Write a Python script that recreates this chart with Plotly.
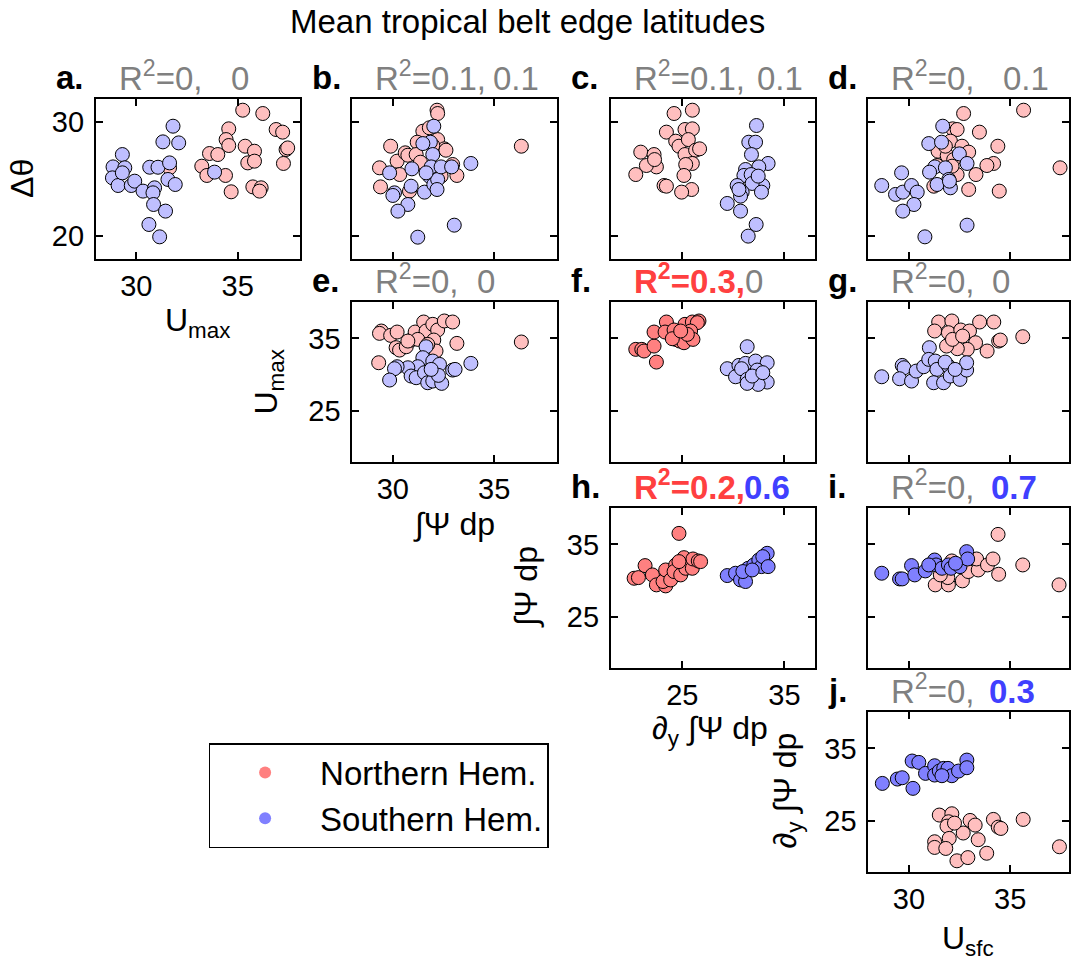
import plotly.graph_objects as go

W, H = 1071, 966
FONT = "Liberation Sans, Arial, Helvetica, sans-serif"

# ---------------- data ----------------
a_nh_x = [31.64, 33.23, 33.48, 33.61, 34.02, 34.40, 34.68, 34.56, 34.43, 34.56, 35.25, 35.37, 35.83, 35.50, 35.83, 35.75, 36.16, 36.24, 36.90, 37.22, 37.39, 37.26, 37.47, 36.08]
a_nh_y = [25.98, 26.12, 25.31, 27.23, 27.14, 25.31, 23.88, 29.39, 28.45, 27.93, 31.02, 27.87, 27.43, 26.41, 26.56, 24.31, 24.23, 30.73, 29.33, 29.10, 27.58, 26.36, 27.72, 23.94]
a_sh_x = [28.85, 29.31, 29.43, 28.82, 29.10, 29.31, 29.75, 29.92, 30.33, 30.66, 31.07, 30.90, 30.82, 30.85, 31.44, 30.62, 31.15, 31.31, 31.81, 32.09, 31.64, 31.56, 31.92, 33.86]
a_sh_y = [26.06, 27.14, 25.98, 25.10, 24.43, 25.54, 24.43, 24.81, 23.94, 26.03, 26.03, 24.23, 23.79, 22.77, 22.19, 21.02, 19.94, 28.25, 29.62, 28.16, 26.41, 24.96, 24.52, 25.60]

b_nh_x = [32.18, 32.21, 29.89, 29.34, 29.39, 30.21, 30.61, 30.74, 31.48, 31.20, 31.15, 31.36, 31.80, 32.21, 32.54, 32.62, 32.95, 33.16, 30.34, 30.82, 36.34, 31.97, 32.38]
b_nh_y = [31.02, 30.73, 27.87, 25.98, 24.31, 26.56, 27.29, 27.08, 29.18, 28.22, 27.14, 26.47, 29.48, 28.45, 27.64, 27.52, 26.27, 25.31, 25.39, 23.94, 27.87, 27.93, 25.25]
b_sh_x = [32.02, 31.85, 31.48, 31.97, 30.94, 29.84, 30.08, 30.00, 30.90, 30.74, 30.25, 31.56, 31.80, 31.89, 32.02, 32.21, 32.38, 32.90, 33.85, 33.03, 31.23, 32.18, 31.64]
b_sh_y = [29.62, 28.22, 28.10, 27.14, 25.89, 25.54, 23.79, 23.56, 24.37, 22.77, 22.19, 23.85, 25.25, 26.06, 24.52, 24.96, 26.06, 26.06, 26.36, 20.96, 19.91, 24.08, 25.54]

c_nh_x = [24.19, 25.98, 25.26, 25.98, 23.44, 24.35, 24.67, 25.59, 25.26, 26.30, 26.69, 25.98, 25.33, 25.16, 25.91, 24.93, 23.21, 23.44, 20.93, 22.23, 22.46, 21.48, 20.44, 22.28]
c_nh_y = [30.73, 31.02, 29.33, 29.39, 29.10, 28.31, 27.87, 28.45, 27.14, 27.52, 27.64, 26.36, 26.27, 25.31, 24.08, 23.85, 24.43, 24.37, 27.35, 27.14, 26.06, 26.18, 25.39, 26.70]
c_sh_x = [32.26, 31.51, 32.17, 31.77, 33.40, 32.49, 31.19, 31.03, 31.74, 32.88, 31.84, 30.37, 30.86, 30.70, 32.75, 29.40, 30.70, 32.23, 31.45, 32.43, 30.54]
c_sh_y = [29.68, 28.22, 28.22, 27.14, 26.36, 26.06, 25.83, 25.31, 25.39, 24.43, 24.61, 24.43, 23.85, 23.50, 23.85, 22.86, 22.19, 21.02, 20.00, 25.25, 24.08]

d_nh_x = [32.70, 35.66, 32.16, 32.38, 33.48, 32.05, 34.39, 32.62, 32.95, 31.44, 31.89, 32.21, 34.18, 33.85, 33.31, 32.38, 32.13, 31.39, 31.23, 32.95, 34.46, 37.46, 31.80]
d_nh_y = [30.73, 31.02, 29.39, 29.33, 29.10, 28.31, 27.87, 27.87, 27.35, 27.43, 27.05, 26.70, 26.36, 26.18, 25.39, 25.39, 26.12, 26.18, 24.37, 24.08, 23.94, 25.98, 27.87]
d_sh_x = [31.67, 30.98, 31.61, 32.49, 32.87, 29.64, 28.66, 29.34, 29.70, 30.13, 30.41, 30.25, 29.70, 31.28, 31.80, 31.02, 31.97, 31.39, 32.05, 32.00, 32.87, 30.79]
d_sh_y = [29.62, 28.10, 28.22, 27.20, 26.36, 25.54, 24.43, 23.65, 23.85, 24.43, 23.85, 22.77, 22.19, 26.06, 25.98, 25.60, 24.96, 24.52, 24.23, 24.81, 20.96, 19.94]

e_nh_x = [29.43, 29.34, 29.89, 30.21, 29.30, 30.16, 30.33, 30.66, 30.90, 31.10, 31.52, 31.64, 31.97, 32.21, 32.54, 32.95, 32.02, 32.13, 33.16, 36.34, 31.23, 31.72, 30.74]
e_nh_y = [36.01, 35.69, 35.41, 35.87, 31.65, 33.72, 33.39, 33.85, 34.77, 35.87, 37.25, 36.01, 36.93, 36.15, 37.39, 37.25, 34.77, 33.26, 34.31, 34.50, 34.86, 34.17, 34.63]
e_sh_x = [31.64, 31.48, 31.97, 32.30, 31.23, 30.74, 30.21, 30.08, 29.84, 30.90, 31.15, 31.56, 31.72, 31.97, 32.41, 32.25, 32.95, 33.07, 33.85, 31.89]
e_sh_y = [33.85, 32.34, 31.88, 31.42, 31.10, 30.96, 31.10, 30.83, 29.27, 29.82, 29.59, 30.28, 28.90, 29.13, 28.81, 29.91, 30.64, 30.73, 31.56, 30.73]

f_nh_x = [20.44, 21.03, 21.25, 22.23, 22.46, 22.23, 23.44, 23.31, 24.19, 24.35, 24.74, 25.16, 25.26, 25.98, 26.63, 26.47, 25.81, 26.04, 25.49, 24.02, 24.84]
f_nh_y = [33.49, 33.49, 33.26, 33.94, 31.74, 35.87, 37.25, 35.87, 36.15, 34.86, 34.63, 34.40, 36.93, 37.25, 37.39, 37.16, 36.01, 34.86, 35.55, 34.95, 36.01]
f_sh_x = [31.35, 29.40, 30.54, 31.19, 32.17, 33.31, 30.21, 30.80, 31.35, 32.33, 32.65, 33.31, 32.43, 31.35, 31.84, 32.88]
f_sh_y = [33.85, 30.83, 31.28, 31.56, 31.88, 31.65, 29.72, 30.83, 29.36, 30.64, 29.82, 28.99, 28.67, 28.81, 29.82, 30.28]

g_nh_x = [31.47, 32.12, 31.27, 31.95, 32.56, 32.99, 33.49, 34.19, 35.62, 34.43, 34.51, 33.29, 33.86, 32.88, 32.39, 31.86, 32.15, 32.65]
g_nh_y = [37.25, 37.39, 36.01, 35.78, 36.15, 36.01, 37.25, 37.25, 35.23, 34.63, 34.77, 34.40, 33.26, 33.49, 33.58, 33.94, 34.86, 35.32]
g_sh_x = [28.66, 29.67, 29.76, 29.54, 30.13, 30.36, 30.73, 31.01, 30.98, 31.30, 31.38, 31.22, 31.71, 31.95, 31.79, 32.04, 32.52, 32.85, 32.85, 32.28]
g_sh_y = [29.72, 31.28, 30.96, 29.45, 29.13, 30.50, 31.10, 33.72, 32.11, 31.88, 30.73, 28.90, 28.90, 31.19, 31.74, 29.82, 29.36, 30.64, 31.65, 30.73]

h_nh_x = [24.67, 20.28, 20.70, 21.35, 22.07, 22.46, 23.37, 23.11, 23.37, 23.86, 24.35, 24.19, 24.84, 25.16, 25.33, 25.98, 26.04, 26.56, 26.79, 24.67]
h_nh_y = [36.51, 30.34, 30.43, 32.08, 30.80, 29.43, 29.29, 29.89, 31.48, 30.11, 32.17, 31.26, 30.80, 33.17, 31.71, 31.71, 32.99, 32.72, 32.63, 32.63]
h_sh_x = [29.40, 30.21, 30.70, 31.19, 31.45, 32.00, 32.49, 32.75, 33.31, 32.88, 33.40, 30.93, 31.84]
h_sh_y = [30.71, 31.03, 30.11, 29.89, 31.71, 32.17, 32.85, 31.94, 33.77, 33.31, 31.94, 31.26, 31.48]

i_nh_x = [34.40, 35.62, 37.41, 31.30, 31.95, 32.64, 31.92, 32.93, 33.42, 33.34, 33.88, 34.15, 34.43, 32.12, 31.55]
i_nh_y = [36.37, 32.17, 29.43, 29.43, 29.43, 29.98, 30.43, 31.26, 31.48, 32.99, 32.17, 32.99, 30.89, 32.72, 30.80]
i_sh_x = [28.66, 29.54, 29.67, 30.13, 30.29, 30.81, 31.27, 31.34, 31.63, 31.95, 32.08, 32.52, 32.85, 32.90, 32.30, 30.98]
i_sh_y = [31.03, 30.25, 30.25, 32.08, 30.80, 31.35, 32.85, 32.17, 31.71, 32.17, 31.71, 31.94, 34.00, 32.99, 32.40, 32.17]

j_nh_x = [31.50, 32.12, 31.96, 31.88, 33.02, 33.27, 34.17, 34.41, 34.54, 35.64, 32.68, 33.42, 31.99, 31.27, 31.27, 31.82, 32.37, 32.91, 33.84, 37.43, 32.25]
j_nh_y = [25.83, 26.01, 24.91, 24.31, 25.09, 24.45, 25.23, 24.17, 23.99, 25.23, 23.36, 22.44, 22.62, 22.16, 21.38, 21.24, 19.54, 19.98, 20.58, 21.47, 24.72]
j_sh_x = [28.69, 29.43, 29.67, 30.20, 30.16, 30.49, 30.82, 31.27, 31.27, 31.50, 31.72, 31.93, 32.12, 32.45, 32.86, 32.86, 31.63]
j_sh_y = [30.18, 30.78, 30.96, 29.50, 33.26, 33.07, 31.56, 32.61, 31.33, 31.88, 32.25, 32.25, 31.24, 31.88, 33.39, 32.34, 31.24]

panel_letters = ["a", "b", "c", "d", "e", "f", "g", "h", "i", "j"]
r2_nh = ["0", "0.1", "0.1", "0", "0", "0.3", "0", "0.2", "0", "0"]
r2_sh = ["0", "0.1", "0.1", "0.1", "0", "0", "0", "0.6", "0.7", "0.3"]
sig_nh = [False, False, False, False, False, True, False, True, False, False]
sig_sh = [False, False, False, False, False, False, False, True, True, True]
col_xticks = [[30, 35], [30, 35], [25, 35], [30, 35]]
row_yticks = [[20, 30], [25, 35], [25, 35], [25, 35]]

series = {
    "a": (a_nh_x, a_nh_y, a_sh_x, a_sh_y), "b": (b_nh_x, b_nh_y, b_sh_x, b_sh_y),
    "c": (c_nh_x, c_nh_y, c_sh_x, c_sh_y), "d": (d_nh_x, d_nh_y, d_sh_x, d_sh_y),
    "e": (e_nh_x, e_nh_y, e_sh_x, e_sh_y), "f": (f_nh_x, f_nh_y, f_sh_x, f_sh_y),
    "g": (g_nh_x, g_nh_y, g_sh_x, g_sh_y), "h": (h_nh_x, h_nh_y, h_sh_x, h_sh_y),
    "i": (i_nh_x, i_nh_y, i_sh_x, i_sh_y), "j": (j_nh_x, j_nh_y, j_sh_x, j_sh_y),
}

# ---------------- layout geometry ----------------
col_left = [96, 353, 612, 870]
row_top = [99, 302, 508, 712]
PW, PH = 205, 160
px_per_unit = [20.3, 20.3, 10.23, 20.3]
x_start = [28.0, 28.0, 18.0, 28.0]
y_range_row = [[18, 32], [18, 40], [18, 40], [18, 40]]
pos = {"a": (0, 0), "b": (0, 1), "c": (0, 2), "d": (0, 3), "e": (1, 1), "f": (1, 2),
       "g": (1, 3), "h": (2, 2), "i": (2, 3), "j": (3, 3)}
labelled = {"a", "e", "h", "j"}
sh_offset = {"a": 134, "b": 140, "c": 145, "d": 134, "e": 124, "f": 133, "g": 123,
             "h": 132, "i": 122, "j": 120}

NH_LIGHT, NH_DARK = "rgb(255,191,191)", "rgb(255,128,128)"
SH_LIGHT, SH_DARK = "rgb(191,191,255)", "rgb(128,128,255)"
GRAY, RED_T, BLUE_T = "rgb(128,128,128)", "rgb(255,64,64)", "rgb(64,64,255)"


def pxx(x):
    return x / W


def pxy(y):
    return 1 - y / H


fig = go.Figure()
layout = {}
annotations = []

for k, letter in enumerate(panel_letters):
    r, c = pos[letter]
    n = k + 1
    xa = "xaxis" if n == 1 else f"xaxis{n}"
    ya = "yaxis" if n == 1 else f"yaxis{n}"
    xr = "x" if n == 1 else f"x{n}"
    yr = "y" if n == 1 else f"y{n}"
    L = col_left[c]
    R = min(L + PW, W)
    T = row_top[r]
    B = T + PH
    common = dict(showgrid=False, zeroline=False, showline=True, linecolor="black",
                  linewidth=2, mirror="ticks", ticks="inside", ticklen=7, tickwidth=1.5,
                  tickcolor="black", tickfont=dict(size=29, color="black", family=FONT),
                  showticklabels=letter in labelled, fixedrange=True)
    layout[xa] = dict(common, domain=[pxx(L), pxx(R)], anchor=yr,
                      range=[x_start[c], x_start[c] + (R - L) / px_per_unit[c]],
                      tickvals=col_xticks[c], ticklabelstandoff=0)
    layout[ya] = dict(common, domain=[pxy(B), pxy(T)], anchor=xr,
                      range=y_range_row[r], tickvals=row_yticks[r], ticklabelstandoff=4)

    nx, ny, sx, sy = series[letter]
    fig.add_trace(go.Scatter(x=nx, y=ny, mode="markers", xaxis=xr, yaxis=yr, showlegend=False,
                             marker=dict(size=14, color=NH_DARK if sig_nh[k] else NH_LIGHT,
                                         line=dict(color="black", width=1)),
                             hoverinfo="skip"))
    fig.add_trace(go.Scatter(x=sx, y=sy, mode="markers", xaxis=xr, yaxis=yr, showlegend=False,
                             marker=dict(size=14, color=SH_DARK if sig_sh[k] else SH_LIGHT,
                                         line=dict(color="black", width=1)),
                             hoverinfo="skip"))

    # panel letter
    annotations.append(dict(text=f"<b>{letter}.</b>", x=pxx(L - 42), y=pxy(T - 1),
                            xref="paper", yref="paper", xanchor="left", yanchor="bottom",
                            showarrow=False, font=dict(size=33, color="black", family=FONT)))
    # R^2 text
    if sig_nh[k]:
        t1 = f"<span style='color:{RED_T}'><b>R<sup>2</sup>=" + r2_nh[k] + ",</b></span>"
    else:
        t1 = f"<span style='color:{GRAY}'>R<sup>2</sup>=" + r2_nh[k] + ",</span>"
    annotations.append(dict(text=t1, x=pxx(L + 21), y=pxy(T), xref="paper", yref="paper",
                            xanchor="left", yanchor="bottom", showarrow=False,
                            font=dict(size=33, family=FONT)))
    if sig_sh[k]:
        t2 = f"<span style='color:{BLUE_T}'><b>" + r2_sh[k] + "</b></span>"
    else:
        t2 = f"<span style='color:{GRAY}'>" + r2_sh[k] + "</span>"
    annotations.append(dict(text=t2, x=pxx(L + sh_offset[letter] - 1), y=pxy(T),
                            xref="paper", yref="paper", xanchor="left", yanchor="bottom",
                            showarrow=False, font=dict(size=33, family=FONT)))

# legend entries
fig.add_trace(go.Scatter(x=[None], y=[None], mode="markers", name="Northern Hem.",
                         marker=dict(size=12, color=NH_DARK)))
fig.add_trace(go.Scatter(x=[None], y=[None], mode="markers", name="Southern Hem.",
                         marker=dict(size=12, color=SH_DARK)))

# axis titles
TF = dict(size=32, color="black", family=FONT)
annotations += [
    dict(text="U<sub>max</sub>", x=pxx(198), y=pxy(300), xanchor="center", yanchor="top"),
    dict(text="Δθ", x=pxx(22), y=pxy(178), xanchor="center", yanchor="middle", textangle=-90),
    dict(text="∫Ψ dp", x=pxx(455), y=pxy(504), xanchor="center", yanchor="top"),
    dict(text="U<sub>max</sub>", x=pxx(269), y=pxy(382), xanchor="center", yanchor="middle", textangle=-90),
    dict(text="∂<sub>y</sub> ∫Ψ dp", x=pxx(711), y=pxy(708), xanchor="center", yanchor="top"),
    dict(text="∫Ψ dp", x=pxx(527), y=pxy(587), xanchor="center", yanchor="middle", textangle=-90),
    dict(text="U<sub>sfc</sub>", x=pxx(970), y=pxy(918), xanchor="center", yanchor="top"),
    dict(text="∂<sub>y</sub> ∫Ψ dp", x=pxx(788), y=pxy(791), xanchor="center", yanchor="middle", textangle=-90),
]
for a in annotations[-8:]:
    a.update(xref="paper", yref="paper", showarrow=False, font=TF)

annotations.append(dict(text="Mean tropical belt edge latitudes", x=pxx(528), y=pxy(1),
                        xref="paper", yref="paper", xanchor="center", yanchor="top",
                        showarrow=False, font=dict(size=33, color="black", family=FONT)))

fig.update_layout(
    width=W, height=H, margin=dict(l=0, r=0, t=0, b=0),
    paper_bgcolor="white", plot_bgcolor="white",
    font=dict(family=FONT, color="black"),
    annotations=annotations,
    showlegend=True,
    legend=dict(x=pxx(209), y=pxy(743), xanchor="left", yanchor="top",
                bgcolor="white", bordercolor="black", borderwidth=1.5,
                font=dict(size=33, color="black", family=FONT), itemwidth=100,
                tracegroupgap=0),
    **layout,
)

fig.write_html("out.html")
